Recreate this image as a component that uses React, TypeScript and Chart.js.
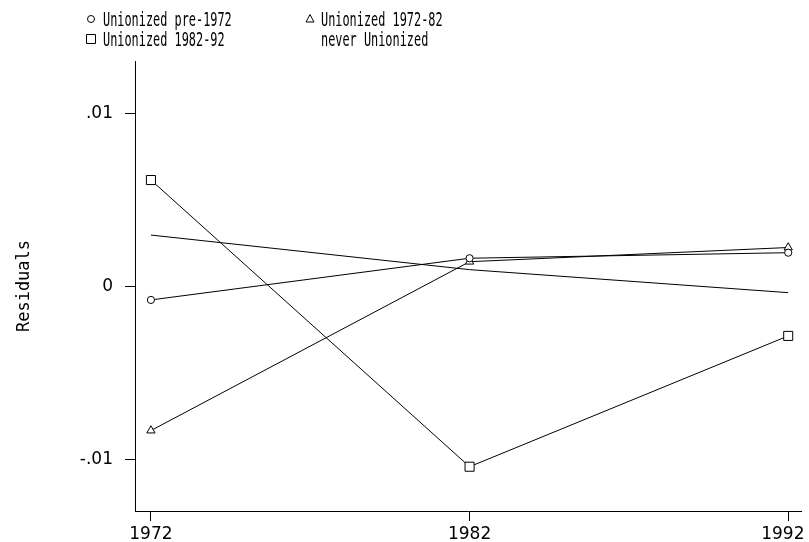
import React, { useEffect, useRef } from "react";
import { Chart, registerables } from "chart.js";

Chart.register(...registerables);

const years = [1972, 1982, 1992];
const unionPre1972 = [-0.00075, 0.00166, 0.00198];
const union1972to82 = [-0.0083, 0.00146, 0.00228];
const union1982to92 = [0.00618, -0.01039, -0.00283];
const neverUnion = [0.003, 0.001, -0.00033];
const xTicks = [1972, 1982, 1992];
const xTickLabels = ["1972", "1982", "1992  "];
const yTicks = [-0.01, 0, 0.01];
const yTickLabels = ["-.01", "0", ".01"];

const seriesLabels = ["Unionized pre-1972", "Unionized 1972-82", "Unionized 1982-92", "never Unionized"];

function drawMarker(ctx: CanvasRenderingContext2D, style: string, x: number, y: number) {
  ctx.save();
  ctx.strokeStyle = "#000";
  ctx.fillStyle = "#fff";
  ctx.lineWidth = 1;
  ctx.beginPath();
  if (style === "circle") {
    ctx.arc(x, y, 3.5, 0, Math.PI * 2);
  } else if (style === "rect") {
    ctx.rect(x - 4.5, y - 4.5, 9, 9);
  } else if (style === "triangle") {
    ctx.moveTo(x, y - 4.5);
    ctx.lineTo(x + 4, y + 3);
    ctx.lineTo(x - 4, y + 3);
    ctx.closePath();
  } else {
    ctx.restore();
    return;
  }
  ctx.fill();
  ctx.stroke();
  ctx.restore();
}

const legendPlugin = {
  id: "customLegend",
  afterDraw(chart: any) {
    const ctx: CanvasRenderingContext2D = chart.ctx;
    const ds = chart.data.datasets;
    // positions: [markerX, textX, baselineY]
    const slots = [
      [91, 103, 26],
      [310, 321, 26],
      [91, 103, 46],
      [310, 321, 46],
    ];
    ds.forEach((d: any, i: number) => {
      const [mx, tx, by] = slots[i];
      drawMarker(ctx, d.pointStyle, mx, by - 7);
      ctx.save();
      ctx.fillStyle = "#000";
      ctx.font = '18px "DejaVu Sans Mono"';
      ctx.textBaseline = "alphabetic";
      ctx.translate(tx, by);
      ctx.scale(0.66, 1.05);
      ctx.fillText(d.label, 0, 0);
      ctx.restore();
    });
  },
};

export default function App() {
  const ref = useRef<HTMLCanvasElement>(null);
  useEffect(() => {
    if (!ref.current) return;
    const mk = (label: string, vals: number[], style: any) => ({
      label,
      data: years.map((x, i) => ({ x, y: vals[i] })),
      borderColor: "#000",
      borderWidth: 1,
      pointStyle: style,
      pointRadius: style === false ? 0 : style === "rect" ? 6.4 : style === "triangle" ? 4.8 : 3.6,
      pointBackgroundColor: "#fff",
      pointBorderColor: "#000",
      pointBorderWidth: 1,
      tension: 0,
      fill: false,
    });
    const tickFont = { family: "DejaVu Sans", size: 17 };
    const chart = new Chart(ref.current, {
      type: "line",
      data: {
        datasets: [
          mk(seriesLabels[0], unionPre1972, "circle"),
          mk(seriesLabels[1], union1972to82, "triangle"),
          mk(seriesLabels[2], union1982to92, "rect"),
          mk(seriesLabels[3], neverUnion, false),
        ],
      },
      options: {
        responsive: false,
        animation: false,
        layout: { padding: { left: 0, top: 61, right: 4, bottom: 0 } },
        plugins: { legend: { display: false }, tooltip: { enabled: false } },
        scales: {
          x: {
            type: "linear",
            min: 1971.5,
            max: 1992.42,
            afterBuildTicks: (s: any) => {
              s.ticks = xTicks.map((v) => ({ value: v }));
            },
            afterFit: (s: any) => {
              s.height = 31;
              s.paddingLeft = 0;
              s.paddingRight = 0;
            },
            grid: { display: true, drawOnChartArea: false, drawTicks: true, tickLength: 10, color: "#000", lineWidth: 1 },
            border: { display: true, color: "#000", width: 1 },
            ticks: {
              color: "#000",
              font: tickFont,
              padding: 3,
              maxRotation: 0,
              autoSkip: false,
              callback: (v: any) => {
                const i = xTicks.indexOf(v);
                return i >= 0 ? xTickLabels[i] : "";
              },
            },
          },
          y: {
            type: "linear",
            min: -0.01295,
            max: 0.01306,
            afterBuildTicks: (s: any) => {
              s.ticks = yTicks.map((v) => ({ value: v }));
            },
            afterFit: (s: any) => {
              s.width = 135;
              s.paddingTop = 0;
              s.paddingBottom = 0;
            },
            grid: { display: true, drawOnChartArea: false, drawTicks: true, tickLength: 10, color: "#000", lineWidth: 1 },
            border: { display: true, color: "#000", width: 1 },
            ticks: {
              color: "#000",
              font: tickFont,
              padding: 12,
              autoSkip: false,
              callback: (v: any) => {
                const i = yTicks.findIndex((t) => Math.abs(t - v) < 1e-9);
                return i >= 0 ? yTickLabels[i] : "";
              },
            },
            title: {
              display: true,
              text: "Residuals",
              color: "#000",
              font: { family: "DejaVu Sans Mono", size: 17 },
              padding: { top: 14, bottom: 0 },
            },
          },
        },
      },
      plugins: [legendPlugin],
    });
    return () => chart.destroy();
  }, []);
  return (
    <div style={{ position: "absolute", left: 0, top: 0, width: 809, height: 542, background: "#fff" }}>
      <canvas ref={ref} width={809} height={542} />
    </div>
  );
}
